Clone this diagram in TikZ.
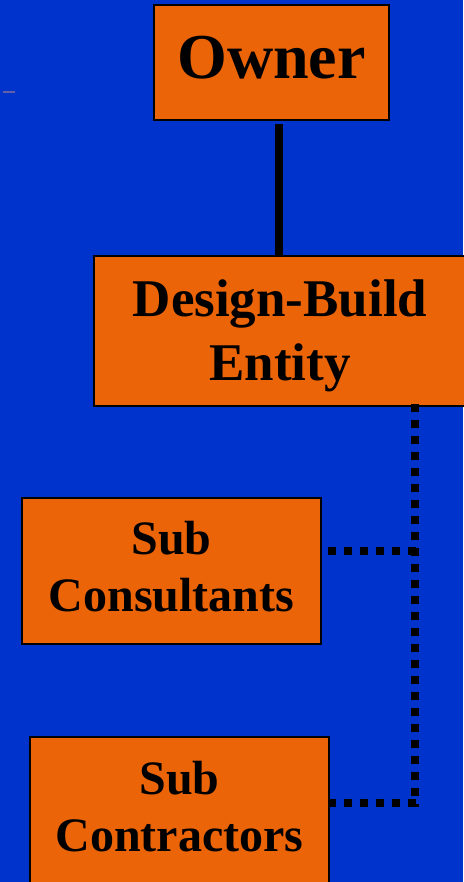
\documentclass[tikz,border=0pt]{standalone}
\usepackage{fontspec}
\setmainfont{Liberation Serif}
\definecolor{slideblue}{RGB}{0,51,204}
\definecolor{boxorange}{RGB}{235,100,8}
\definecolor{dashgray}{RGB}{95,95,170}
\tikzset{
  orgbox/.style={draw=black, line width=2pt, fill=boxorange, inner sep=0pt},
  orgtext/.style={align=center, inner sep=0pt, font=\bfseries},
  dotline/.style={line width=8pt, dash pattern=on 8pt off 8pt}
}
\begin{document}
\begin{tikzpicture}[x=1pt, y=-1pt]
        \useasboundingbox (0,0) rectangle (463,882);
      \fill [slideblue] (0,0) rectangle (463,882);
      \draw [dashgray, line width=1.5pt] (3,92) -- (15,92);

       % boxes
       \node [orgbox, minimum width=235pt, minimum height=115pt] (owner) at (271.5,62.5) {};
       \node [orgbox, minimum width=380pt, minimum height=150pt] (dbe) at (284,331) {};
       \node [orgbox, minimum width=299pt, minimum height=146pt] (subcons) at (171.5,571) {};
       \node [orgbox, minimum width=299pt, minimum height=160pt] (subcont) at (179.5,817) {};

       % texts
       \node [orgtext, font=\bfseries\fontsize{64}{70}\selectfont]
         (ownertext) at ([yshift=5pt]owner.center) {Owner};
       \node [orgtext, font=\bfseries\fontsize{53}{64}\selectfont]
         (dbetext) at ([xshift=-4pt, yshift=-5pt]dbe.center) {Design-Build\\Entity};
       \node [orgtext, font=\bfseries\fontsize{48}{57}\selectfont]
         (subconstext) at ([yshift=4pt]subcons.center) {Sub\\Consultants};
       \node [orgtext, font=\bfseries\fontsize{48}{57}\selectfont]
         (subconttext) at ([yshift=10pt]subcont.center) {Sub\\Contractors};

        \draw [line width=8pt] ([yshift=-3pt]owner.south -| 279,0) -- (dbe.north -| 279,0);

        \coordinate (bus) at (415,803);
        \coordinate (tee) at (415,551);
        \draw [dotline] ([yshift=3pt]dbe.south -| bus) -- ([yshift=-4pt]bus);
        \draw [dotline] ([xshift=6pt]subcons.east |- tee) -- ([xshift=4pt]tee);
        \draw [dotline] ([xshift=-2pt]subcont.east |- bus) -- ([xshift=4pt]bus);

    \end{tikzpicture}
\end{document}
